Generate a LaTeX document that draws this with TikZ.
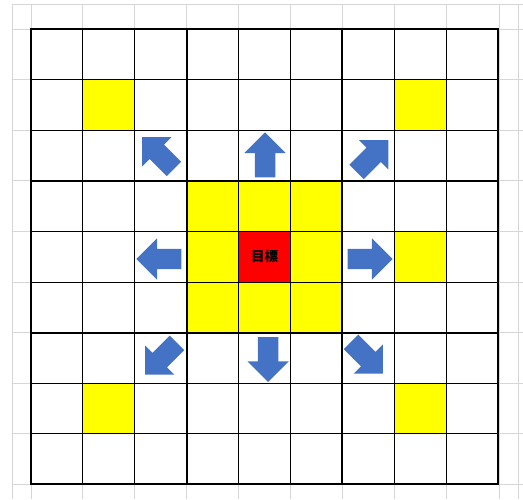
\documentclass[tikz,border=0pt]{standalone}
\usepackage{fontspec}
\newfontfamily\cjk{Noto Sans CJK JP}
\usepackage{xcolor}
\usetikzlibrary{shapes.arrows, backgrounds, calc}
\definecolor{arrowblue}{HTML}{4472C4}
\definecolor{sheetgray}{HTML}{D6D6D6}
\definecolor{markyellow}{HTML}{FFFF00}
\definecolor{goalred}{HTML}{FF0000}

\begin{document}
\begin{tikzpicture}[
    x=1pt, y=-1pt,
    cell/.style={rectangle, draw=black, line width=0.9pt, minimum width=51.9pt, minimum height=50.6pt, inner sep=0pt, outer sep=0pt},
    block/.style={draw=black, line width=2pt, line cap=rect},
    sheet/.style={draw=sheetgray, line width=0.9pt},
    dirarrow/.style={single arrow, fill=arrowblue, draw=none, minimum height=45pt, inner xsep=0pt, inner ysep=10pt, single arrow head extend=10.5pt},
    goaltext/.style={font=\cjk\bfseries\fontsize{13.5}{15}\selectfont, text=black}
]
\useasboundingbox (0,0) rectangle (523,499);

% Board cells
\foreach \i in {0,...,8} {
    \foreach \j in {0,...,8} {
        \node[cell] (c\i\j) at ({56.95+51.9*\i},{54.3+50.6*\j}) {};
    }
}

% Block borders
\draw[block] (c00.north west) rectangle (c88.south east);
\foreach \k in {3,6} {
    \draw[block] (c\k0.north west) -- (c\k8.south west);
    \draw[block] (c0\k.north west) -- (c8\k.north east);
}

% Goal
\node[goaltext] (goal) at (c44) {目標};

% Moves
\node[dirarrow, rotate=90] (up) at ($(c42)+(0.5,4.5)$) {};
\node[dirarrow, rotate=-90] (down) at ($(c46)+(3.5,-3.5)$) {};
\node[dirarrow, rotate=180] (left) at ($(c24)+(3.2,2.3)$) {};
\node[dirarrow] (right) at ($(c64)+(-3.3,2.3)$) {};
\node[dirarrow, rotate=135] (upleft) at ($(c22)+(0.9,1.2)$) {};
\node[dirarrow, rotate=45] (upright) at ($(c62)+(0.5,4.2)$) {};
\node[dirarrow, rotate=-135] (downleft) at ($(c26)+(3.9,-2.7)$) {};
\node[dirarrow, rotate=-45] (downright) at ($(c66)+(-5,-3.7)$) {};

% Sheet grid and fills
\begin{scope}[on background layer]
    \foreach \x in {12,31,82.9,134.8,186.7,238.6,290.5,342.4,394.3,446.2,499,518}
        \draw[sheet] (\x,4) -- (\x,499);
    \foreach \y in {4,29,79.6,130.2,180.8,231.4,282,332.6,383.2,433.8,484.4}
        \draw[sheet] (12,\y) -- (523,\y);
    \foreach \c in {11,71,74,17,77,33,43,53,34,54,35,45,55}
        \fill[markyellow] (c\c.south west) rectangle (c\c.north east);
    \fill[goalred] (c44.south west) rectangle (c44.north east);
\end{scope}
\end{tikzpicture}
\end{document}
